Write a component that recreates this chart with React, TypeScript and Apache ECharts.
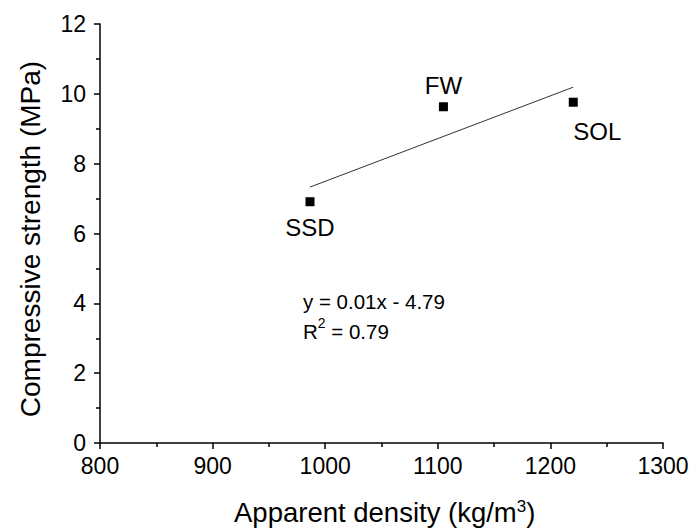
import React, { useEffect, useRef } from "react";
import * as echarts from "echarts";

const sampleNames = ["SSD", "FW", "SOL"];
const density = [986.5, 1105, 1220.3];
const strength = [6.91, 9.63, 9.76];
const labelPositions = ["bottom", "top", "bottom"];
const equationText = "y = 0.01x - 4.79";
const r2Value = "0.79";

function fit(xs: number[], ys: number[]) {
  const n = xs.length;
  const mx = xs.reduce((a, b) => a + b, 0) / n;
  const my = ys.reduce((a, b) => a + b, 0) / n;
  let sxy = 0, sxx = 0;
  for (let i = 0; i < n; i++) {
    sxy += (xs[i] - mx) * (ys[i] - my);
    sxx += (xs[i] - mx) * (xs[i] - mx);
  }
  const slope = sxy / sxx;
  return { slope, intercept: my - slope * mx };
}

export default function App() {
  const ref = useRef<HTMLDivElement>(null);
  useEffect(() => {
    if (!ref.current) return;
    document.body.style.margin = "0";
    const chart = echarts.init(ref.current, null, { renderer: "svg" });
    const { slope, intercept } = fit(density, strength);
    const xMin = Math.min(...density);
    const xMax = Math.max(...density);
    const font = "Arial, 'Liberation Sans', sans-serif";
    chart.setOption({
      animation: false,
      grid: { left: 100, top: 24, right: 31, bottom: 89 },
      xAxis: {
        type: "value",
        min: 800,
        max: 1300,
        interval: 100,
        axisLine: { lineStyle: { color: "#000", width: 1.5 } },
        axisTick: { inside: false, length: 6, lineStyle: { color: "#000", width: 1.5 } },
        minorTick: { show: true, splitNumber: 2, length: 4, lineStyle: { color: "#000", width: 1.5 } },
        splitLine: { show: false },
        axisLabel: { color: "#000", fontSize: 23, fontFamily: font, margin: 11, formatter: (v: number) => String(v) },
      },
      yAxis: {
        type: "value",
        min: 0,
        max: 12,
        interval: 2,
        axisLine: { show: true, lineStyle: { color: "#000", width: 1.5 } },
        axisTick: { show: true, inside: false, length: 6, lineStyle: { color: "#000", width: 1.5 } },
        minorTick: { show: true, splitNumber: 2, length: 4, lineStyle: { color: "#000", width: 1.5 } },
        splitLine: { show: false },
        axisLabel: { color: "#000", fontSize: 23, fontFamily: font, margin: 14, formatter: (v: number) => String(v) },
      },
      graphic: [
        {
          type: "text",
          left: 234,
          top: 498,
          style: {
            text: "Apparent density (kg/m{sup|3})",
            fontSize: 27.5,
            fontFamily: font,
            fill: "#000",
            rich: {
              sup: { fontSize: 17, verticalAlign: "top", padding: [0, 0, 11, 0], fontFamily: font, fill: "#000" },
            },
          },
        },
        {
          type: "text",
          x: 30,
          y: 239,
          rotation: Math.PI / 2,
          style: {
            text: "Compressive strength (MPa)",
            fontSize: 28,
            fontFamily: font,
            fill: "#000",
            align: "center",
            verticalAlign: "middle",
          },
        },
        {
          type: "text",
          left: 303,
          top: 286,
          style: {
            text: equationText + "\nR{sup|2} = " + r2Value,
            fontSize: 20.5,
            lineHeight: 30,
            fontFamily: font,
            fill: "#000",
            rich: {
              sup: { fontSize: 14, verticalAlign: "top", padding: [0, 0, 8, 0], fontFamily: font, fill: "#000" },
            },
          },
        },
      ],
      series: [
        {
          type: "line",
          data: [
            [xMin, slope * xMin + intercept],
            [xMax, slope * xMax + intercept],
          ],
          symbol: "none",
          lineStyle: { color: "#333", width: 1 },
          silent: true,
          z: 1,
        },
        {
          type: "scatter",
          symbol: "rect",
          symbolSize: 9,
          itemStyle: { color: "#000", opacity: 1 },
          z: 3,
          data: density.map((d, i) => ({
            value: [d, strength[i]],
            name: sampleNames[i],
            label: {
              show: true,
              formatter: sampleNames[i],
              position: labelPositions[i],
              distance: i === 2 ? 10 : 7,
              offset: i === 2 ? [24, 3] : i === 0 ? [0, 2] : [0, 2],
              color: "#000",
              fontSize: 24,
              fontFamily: font,
            },
          })),
        },
      ],
    });
    return () => chart.dispose();
  }, []);
  return <div ref={ref} style={{ width: 694, height: 532 }} />;
}
